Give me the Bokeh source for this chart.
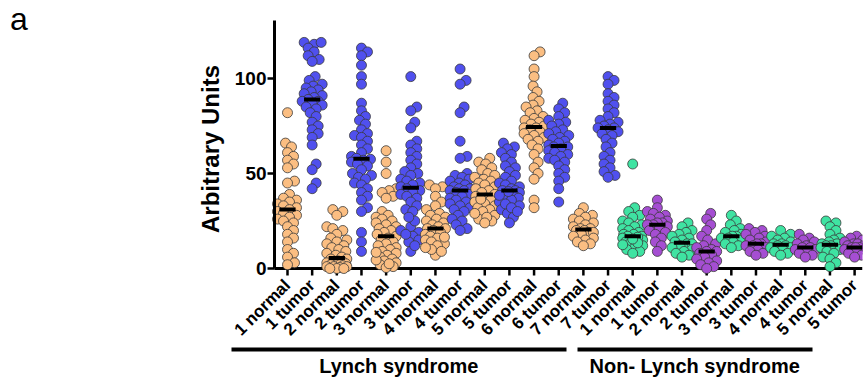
import math
import numpy as np
from bokeh.plotting import figure
from bokeh.models import FixedTicker, Range1d, LinearAxis, Div, Title
from bokeh.layouts import row
from bokeh.embed import file_html
from bokeh.resources import INLINE

# ---------------- data ----------------
lynch_1_normal = [82, 66, 64, 61, 59, 57, 55, 53, 46, 45, 39, 37, 36, 35, 34, 33, 32, 31, 30, 29,
                  28, 27, 26, 25, 24, 22, 20, 18, 16, 14, 10, 8, 6, 3, 2]
lynch_1_tumor = [119, 118, 119, 116, 114, 112, 110, 109, 101, 99, 97, 96, 95, 94, 93, 92, 91, 90, 89,
                 88, 88, 87, 86, 85, 84, 82, 80, 77, 75, 73, 71, 69, 65, 55, 52, 45, 42]
lynch_2_normal = [31, 30, 28, 22, 21, 20, 18, 16, 15, 14, 13, 12, 11, 10, 9, 8, 7, 6, 5, 5, 4, 3.5,
                  3, 3, 2.5, 2, 2, 2, 1.5, 1, 1, 1, 0.5, 0, 0, 0]
lynch_2_tumor = [116, 114, 112, 107, 101, 97, 87, 83, 80, 78, 76, 73, 71, 70, 69, 67, 65, 63, 61, 57.5,
                 59, 58, 57, 56, 55, 54, 52, 50, 49, 48, 47, 45, 44, 42, 40, 38, 36, 32, 30, 19, 14, 9]
lynch_3_normal = [62, 56, 50, 42, 41, 40, 38, 37, 30, 28, 27, 26, 25, 24, 23, 22, 21, 20, 19, 18, 17,
                  16, 15, 14, 13, 12, 11, 10, 9, 8, 7, 6, 5, 4, 3, 2, 1, 0.5, 2.5, 4.5, 8.5]
lynch_3_tumor = [101, 85, 83, 77, 74, 67, 65, 63, 61, 59, 57, 55, 53, 51, 50, 49, 47, 46, 45, 44, 43,
                 42, 41, 40, 39, 38, 37, 35, 33, 31, 30, 22, 20, 19, 17, 15, 14, 9, 12, 18, 25, 27]
lynch_4_normal = [44, 43, 42, 38, 35, 33, 31, 29, 28, 27, 26, 25, 24, 23, 22, 21, 21, 20, 19, 18, 17,
                  16, 15, 14, 13, 12, 7, 10, 11, 9, 16.5]
lynch_4_tumor = [105, 99, 97, 85, 82, 67, 59, 58, 50, 49, 48, 47, 46, 45, 44, 43, 42, 42, 41, 41, 40,
                 39, 38, 37, 36, 35, 34, 33, 32, 31, 30, 28, 26, 25, 23, 21, 20]
lynch_5_normal = [58, 56, 55, 53, 52, 50, 49, 48, 47, 46, 45, 44, 43, 42, 41, 40, 39, 38, 37, 36, 35,
                  34, 33, 32, 31, 30, 28, 26, 25, 29, 27, 24, 36.5]
lynch_5_tumor = [66, 64, 63, 61, 60, 58, 56, 54, 53, 51, 49, 48, 46, 45, 44, 43, 42, 41, 41, 40, 39,
                 38, 37, 36, 35, 33, 31, 29, 27, 24, 40.5, 38.5, 34, 32, 30]
lynch_6_normal = [114, 112, 105, 101, 96, 93, 90, 88, 86, 85, 83, 82, 80, 79, 78, 77, 76, 75, 74, 74,
                  73, 72, 71, 70, 69, 68, 67, 65, 63, 60, 56, 53, 50, 47, 36, 32]
lynch_6_tumor = [87, 84, 82, 80, 78, 77, 76, 75, 73, 72, 71, 70, 69, 68, 67, 66, 65, 64, 64, 63, 62,
                 61, 60, 59, 58, 57, 56, 54, 52, 50, 48, 46, 42, 35]
lynch_7_normal = [32, 29, 28, 27, 26, 25, 24, 23, 22, 21, 21, 20, 20, 19, 19, 18, 17, 16, 15, 14, 13, 12]
lynch_7_tumor = [101, 99, 97, 92, 90, 88, 86, 84, 82, 80, 78, 77, 76, 75, 74, 74, 73, 72, 71, 70, 68,
                 66, 64, 61, 59, 57, 55, 53, 51, 49, 48]
nonlynch_1_normal = [55, 32, 30, 28, 27, 25, 24, 23, 22, 21, 20, 19, 18, 18, 17, 17, 16, 15, 14, 13,
                     12, 11, 10, 9, 16.5, 13.5, 8, 15.5, 12.5]
nonlynch_1_tumor = [36, 32, 30, 29, 28, 27, 26, 25, 24, 24, 23, 23, 22, 21, 20, 19, 18, 16, 14, 12, 9]
nonlynch_2_normal = [24, 22, 20, 19, 18, 17, 16, 15, 14, 13, 13, 12, 11, 10, 9, 8, 7, 6]
nonlynch_2_tumor = [29, 26, 23, 20, 17, 15, 13, 12, 11, 10, 9, 9, 8, 7, 6, 5, 4, 3, 2, 1, 0]
nonlynch_3_normal = [28, 25, 23, 21, 20, 19, 18, 17, 17, 16, 16, 15, 14, 13, 12, 11]
nonlynch_3_tumor = [21, 20, 19, 18, 17, 16, 15, 14, 13, 13, 12, 12, 11, 10, 9, 8, 7]
nonlynch_4_normal = [20, 18, 17, 16, 15, 14, 13, 13, 12, 12, 11, 11, 10, 9, 8, 7]
nonlynch_4_tumor = [18, 16, 15, 14, 13, 12, 11, 11, 10, 10, 9, 8, 7, 6]
nonlynch_5_normal = [25, 24, 22, 20, 18, 16, 15, 14, 13, 13, 12, 12, 11, 10, 9, 8, 6, 5, 3, 1]
nonlynch_5_tumor = [17, 16, 15, 14, 13, 13, 12, 12, 11, 11, 11, 10, 10, 9, 8, 7, 6]

series = [lynch_1_normal, lynch_1_tumor, lynch_2_normal, lynch_2_tumor, lynch_3_normal, lynch_3_tumor,
          lynch_4_normal, lynch_4_tumor, lynch_5_normal, lynch_5_tumor, lynch_6_normal, lynch_6_tumor,
          lynch_7_normal, lynch_7_tumor,
          nonlynch_1_normal, nonlynch_1_tumor, nonlynch_2_normal, nonlynch_2_tumor, nonlynch_3_normal,
          nonlynch_3_tumor, nonlynch_4_normal, nonlynch_4_tumor, nonlynch_5_normal, nonlynch_5_tumor]

category_labels = ["1 normal", "1 tumor", "2 normal", "2 tumor", "3 normal", "3 tumor", "4 normal",
                   "4 tumor", "5 normal", "5 tumor", "6 normal", "6 tumor", "7 normal", "7 tumor",
                   "1 normal", "1 tumor", "2 normal", "2 tumor", "3 normal", "3 tumor", "4 normal",
                   "4 tumor", "5 normal", "5 tumor"]
groups = ["Lynch syndrome", "Non- Lynch syndrome"]
group_members = [list(range(0, 14)), list(range(14, 24))]
y_ticks = [0, 50, 100]
y_title = "Arbitrary Units"
panel_tag = "a"

# ---------------- styling / layout ----------------
C_LN = "#FBBE82"   # Lynch normal
C_LT = "#5050EE"   # Lynch tumor
C_NN = "#3FE3A2"   # Non-Lynch normal
C_NT = "#A54ED2"   # Non-Lynch tumor
FONT = "Liberation Sans"

TAG_W = 40
W, H = 864 - TAG_W, 379
X0, X1 = -2.393, 23.32
Y_AXIS_X = -0.527            # where the value axis sits (category units)
Y0, Y1 = -5.26, 131.05
BL, BR, BT = 228 - TAG_W, 2, 19
frame_w = W - BL - BR
frame_h = 259
BB = H - BT - frame_h
ppx = frame_w / (X1 - X0)
ppy = frame_h / (Y1 - Y0)
PAD_L, PAD_R = 2.27, 1.7     # group bar overhang (category units)


def swarm_offsets(vals, dmin=6.5, maxw=10.5, step=1.0):
    vals = np.asarray(vals, dtype=float)
    order = np.argsort(vals, kind="stable")
    placed = []
    offs = np.zeros(len(vals))
    cands = [0.0]
    k = 1
    while k * step <= maxw:
        cands += [k * step, -k * step]
        k += 1
    for i in order:
        y = vals[i] * ppy
        chosen, best_c, best_d = None, 0.0, -1.0
        for c in cands:
            md = min((math.hypot(c - px, y - py) for px, py in placed), default=1e9)
            if md >= dmin:
                chosen = c
                break
            if md > best_d:
                best_d, best_c = md, c
        if chosen is None:
            chosen = best_c
        placed.append((chosen, y))
        offs[i] = chosen / ppx
    return offs


p = figure(width=W, height=H, output_backend="svg", toolbar_location=None,
           x_range=Range1d(X0, X1), y_range=Range1d(Y0, Y1),
           min_border_left=BL, min_border_right=BR, min_border_top=BT, min_border_bottom=BB)
p.outline_line_color = None
p.grid.visible = False
p.background_fill_color = "white"

idx = list(range(len(series)))

# category axis line and ticks at y = 0 (drawn under the points)
p.segment(x0=[Y_AXIS_X], x1=[X1], y0=[0], y1=[0], line_color="black", line_width=3, level="underlay")
p.segment(x0=idx, x1=idx, y0=[0] * len(idx), y1=[-7 / ppy] * len(idx),
          line_color="black", line_width=2.5, level="underlay")

for i, vals in enumerate(series):
    is_normal = (i % 2 == 0)
    if i < 14:
        col = C_LN if is_normal else C_LT
    else:
        col = C_NN if is_normal else C_NT
    offs = swarm_offsets(vals)
    xs = [i + o for o in offs]
    p.scatter(xs, vals, size=10, fill_color=col, line_color="#3a3a3a", line_width=0.8)

meds = [float(np.median(v)) for v in series]
p.segment(x0=[i - 0.33 for i in idx], x1=[i + 0.33 for i in idx], y0=meds, y1=meds,
          line_color="black", line_width=4)

# category axis (labels only)
p.xaxis.ticker = FixedTicker(ticks=idx)
p.xaxis.major_label_overrides = {i: lab for i, lab in enumerate(category_labels)}
p.xaxis.major_label_orientation = math.pi / 4
p.xaxis.axis_line_color = None
p.xaxis.major_tick_line_color = None
p.xaxis.minor_tick_line_color = None
p.xaxis.major_tick_in = 0
p.xaxis.major_tick_out = 0
p.xaxis.major_label_standoff = 4
p.xaxis.major_label_text_font = FONT
p.xaxis.major_label_text_font_style = "bold"
p.xaxis.major_label_text_font_size = "17px"
p.xaxis.major_label_text_color = "black"

# value axis, placed at its own x location
p.yaxis.fixed_location = Y_AXIS_X
p.yaxis.ticker = FixedTicker(ticks=y_ticks)
p.yaxis.bounds = (0, 130.5)
p.yaxis.minor_tick_line_color = None
p.yaxis.axis_line_width = 3
p.yaxis.major_tick_line_width = 2.5
p.yaxis.major_tick_in = 0
p.yaxis.major_tick_out = 7
p.yaxis.major_label_standoff = 1
p.yaxis.major_label_text_font = FONT
p.yaxis.major_label_text_font_style = "bold"
p.yaxis.major_label_text_font_size = "19px"
p.yaxis.major_label_text_color = "black"

p.add_layout(Title(text=y_title, align="center", text_font=FONT, text_font_style="bold",
                   text_font_size="24px", text_color="black", standoff=10), "left")

# group axis: its line (with a dash gap) forms the two group bars, its labels the group names
bars = [(m[0] - PAD_L, m[-1] - PAD_R) for m in group_members]
centers = [round((a + b) / 2, 3) for a, b in bars]
len1 = int(round((bars[0][1] - bars[0][0]) * ppx))
gap = int(round((bars[1][0] - bars[0][1]) * ppx))
len2 = int(round((bars[1][1] - bars[1][0]) * ppx))
gaxis = LinearAxis(ticker=FixedTicker(ticks=centers),
                   major_label_overrides={c: g for c, g in zip(centers, groups)},
                   bounds=(bars[0][0], bars[1][1]))
gaxis.axis_line_width = 4
gaxis.axis_line_color = "black"
gaxis.axis_line_dash = f"{len1} {gap} {len2} 60"
gaxis.major_tick_line_color = None
gaxis.minor_tick_line_color = None
gaxis.major_tick_in = 0
gaxis.major_tick_out = 0
gaxis.major_label_standoff = 5
gaxis.major_label_text_font = FONT
gaxis.major_label_text_font_style = "bold"
gaxis.major_label_text_font_size = "20px"
gaxis.major_label_text_color = "black"
p.add_layout(gaxis, "below")

tag = Div(text=panel_tag, width=TAG_W, height=50, margin=(0, 0, 0, 0),
          styles={"font-family": FONT, "font-size": "32px", "line-height": "1",
                  "padding-left": "10px", "padding-top": "3px", "color": "black"})

layout = row(tag, p, spacing=0)
open("out.html", "w").write(file_html(layout, INLINE))
